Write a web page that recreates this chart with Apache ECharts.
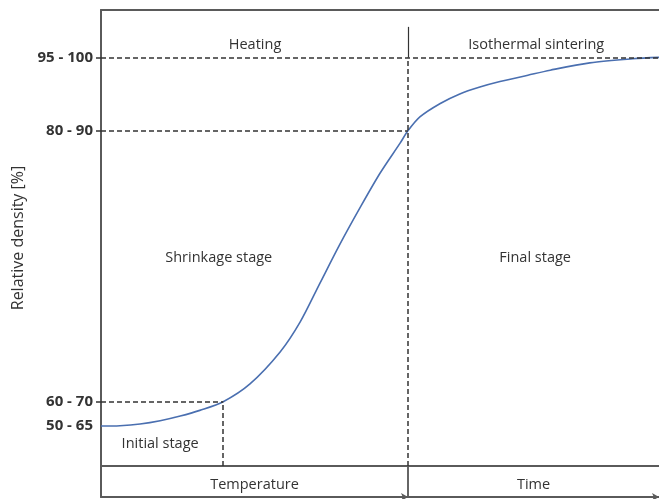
<!DOCTYPE html>
<html><head><meta charset="utf-8">
<script src="https://cdn.jsdelivr.net/npm/echarts@6/dist/echarts.min.js"></script>
<style>html,body{margin:0;padding:0;background:#fff}#c{width:659px;height:499px}</style>
</head><body><div id="c"></div>
<script>
// Densification curve (abstract units: x = progress 0..100, y = relative density scale 0..100)
const curveX = [0, 3.4, 7.0, 10.6, 14.2, 17.7, 21.9, 26.7, 32.1, 35.7, 39.2, 42.8, 46.4, 50.0, 53.6, 55.0, 57.2, 60.8, 64.3, 67.9, 71.5, 76.5, 80.5, 87.6, 95.3, 100];
const curveY = [8.77, 8.84, 9.21, 9.93, 10.96, 12.2, 14.1, 18.0, 25.0, 31.6, 40.0, 48.6, 56.6, 64.2, 70.8, 73.5, 76.6, 79.5, 81.6, 83.1, 84.3, 85.7, 86.8, 88.4, 89.3, 89.6];
// Density levels on the y axis
const levelValues = [89.6, 73.5, 14.1, 8.8];
const levelLabels = ['95 - 100', '80 - 90', '60 - 70', '50 - 65'];
const tickLevels = [89.6, 73.5, 14.1];
// Stage boundaries (x)
const initialEndX = 21.9;
const heatingEndX = 55.0;
const headerTopY = 96.3;
// Annotation texts
const annoText = ['Heating', 'Isothermal sintering', 'Shrinkage stage', 'Final stage', 'Initial stage'];
const annoX = [27.6, 78.0, 21.1, 77.8, 10.6];
const annoY = [92.3, 92.3, 45.6, 45.6, 4.8];
const bandNames = ['Temperature', 'Time'];

const FONT = 'Open Sans';
const AX = '#5a5a5a';
const dash = { color: '#333', width: 1.5, type: [5, 3] };
const solid = { color: '#333', width: 1.2, type: 'solid' };

const chart = echarts.init(document.getElementById('c'), null, { renderer: 'canvas' });
const lineData = curveX.map((x, i) => [x, curveY[i]]);

const markLines = [
  [{ coord: [0, levelValues[0]], lineStyle: dash }, { coord: [100, levelValues[0]] }],
  [{ coord: [0, levelValues[1]], lineStyle: dash }, { coord: [heatingEndX, levelValues[1]] }],
  [{ coord: [0, levelValues[2]], lineStyle: dash }, { coord: [initialEndX, levelValues[2]] }],
  [{ coord: [initialEndX, 0], lineStyle: dash }, { coord: [initialEndX, levelValues[2]] }],
  [{ coord: [heatingEndX, 0], lineStyle: dash }, { coord: [heatingEndX, levelValues[0]] }],
  [{ coord: [heatingEndX, levelValues[0]], lineStyle: solid }, { coord: [heatingEndX, headerTopY] }]
];

const markPoints = annoText.map((t, i) => ({
  coord: [annoX[i], annoY[i]], name: t, value: t
}));

function bandAxisLine() {
  return { show: true, lineStyle: { color: AX, width: 2 }, symbol: ['none', 'arrow'], symbolSize: [6, 7] };
}

const txt = { fontFamily: FONT, fontSize: 14.5, color: '#333' };

chart.setOption({
  animation: false,
  textStyle: { fontFamily: FONT },
  grid: [
    { left: 101, right: 0, top: 10, bottom: 33 },
    { left: 101, width: 307, top: 466, height: 31 },
    { left: 408, right: 0, top: 466, height: 31 }
  ],
  xAxis: [
    { gridIndex: 0, type: 'value', min: 0, max: 100, position: 'bottom',
      axisLine: { show: true, onZero: false, lineStyle: { color: AX, width: 2 } },
      axisTick: { show: false }, axisLabel: { show: false }, splitLine: { show: false } },
    { gridIndex: 0, type: 'value', min: 0, max: 100, position: 'top',
      axisLine: { show: true, onZero: false, lineStyle: { color: AX, width: 2 } },
      axisTick: { show: false }, axisLabel: { show: false }, splitLine: { show: false } },
    { gridIndex: 1, type: 'value', min: 0, max: 1, position: 'bottom',
      axisLine: bandAxisLine(), axisTick: { show: false }, axisLabel: { show: false }, splitLine: { show: false },
      name: bandNames[0], nameLocation: 'middle', nameGap: -20, nameTextStyle: txt },
    { gridIndex: 2, type: 'value', min: 0, max: 1, position: 'bottom',
      axisLine: bandAxisLine(), axisTick: { show: false }, axisLabel: { show: false }, splitLine: { show: false },
      name: bandNames[1], nameLocation: 'middle', nameGap: -20, nameTextStyle: txt }
  ],
  yAxis: [
    { gridIndex: 0, type: 'value', min: 0, max: 100,
      axisLine: { show: true, onZero: false, lineStyle: { color: AX, width: 2 } },
      axisTick: { show: true, customValues: tickLevels, length: 5, lineStyle: { color: '#333', width: 1.5 } },
      axisLabel: { show: true, customValues: levelValues, margin: 8,
        formatter: v => { const i = levelValues.indexOf(v); return i >= 0 ? levelLabels[i] : ''; },
        fontFamily: FONT, fontSize: 15, fontWeight: 'bold', color: '#333' },
      splitLine: { show: false },
      name: 'Relative density [%]', nameLocation: 'middle', nameRotate: 90, nameGap: 74,
      nameTextStyle: { fontFamily: FONT, fontSize: 16, color: '#333' } },
    { gridIndex: 1, type: 'value', min: 0, max: 1,
      axisLine: { show: true, onZero: false, lineStyle: { color: AX, width: 2 } },
      axisTick: { show: false }, axisLabel: { show: false }, splitLine: { show: false } },
    { gridIndex: 2, type: 'value', min: 0, max: 1,
      axisLine: { show: true, onZero: false, lineStyle: { color: '#333', width: 1.5 } },
      axisTick: { show: false }, axisLabel: { show: false }, splitLine: { show: false } }
  ],
  series: [{
    type: 'line', xAxisIndex: 0, yAxisIndex: 0, data: lineData, smooth: 0.3,
    showSymbol: false, symbol: 'none', clip: false,
    lineStyle: { color: '#4a6fb0', width: 1.6 },
    markLine: { silent: true, symbol: ['none', 'none'], label: { show: false }, data: markLines },
    markPoint: { silent: true, symbol: 'circle', symbolSize: 0,
      label: Object.assign({ show: true, position: 'inside', formatter: p => p.name }, txt),
      data: markPoints }
  }]
});
</script></body></html>
